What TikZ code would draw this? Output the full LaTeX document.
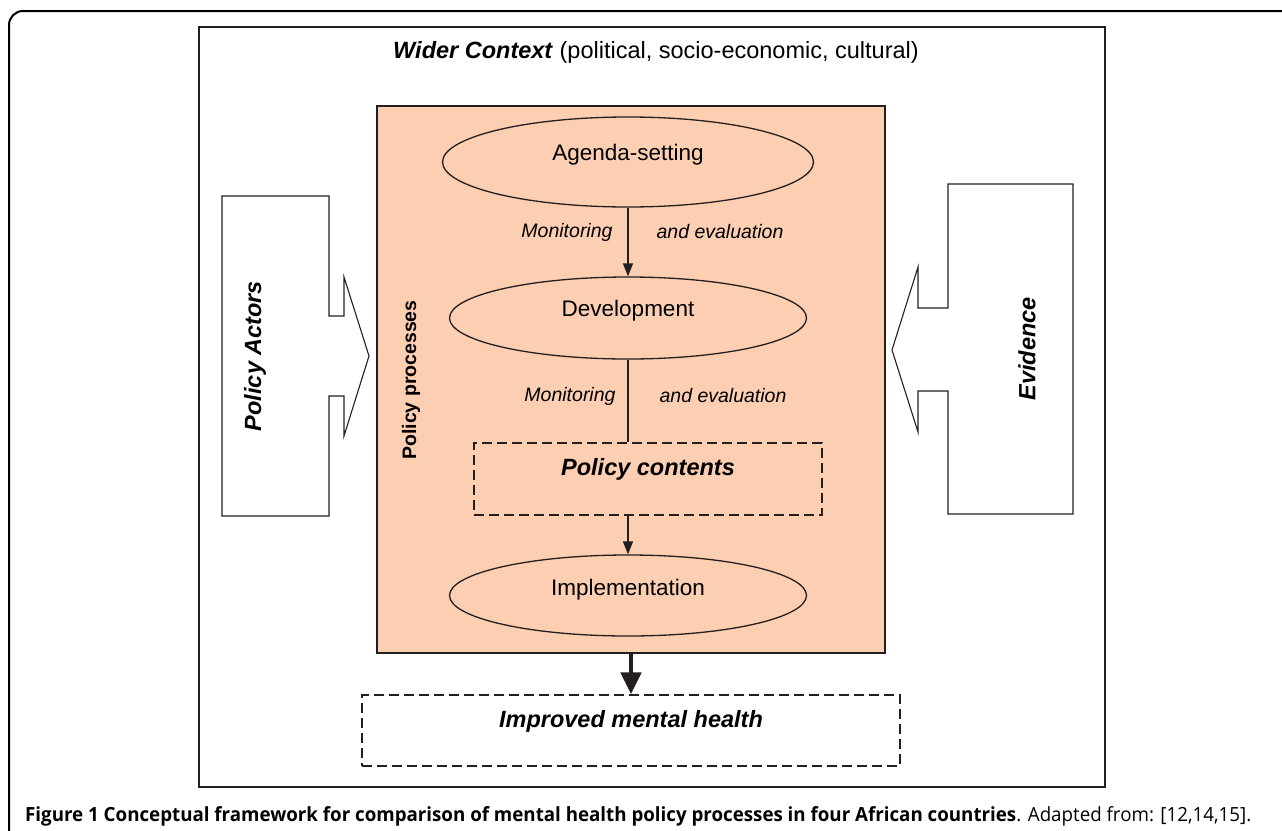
\documentclass[tikz,border=0pt]{standalone}
\usepackage{fontspec}
\usepackage{graphicx}
\setmainfont{Liberation Sans}
\newfontfamily\capfont{Open Sans}
\usetikzlibrary{shapes.geometric,arrows.meta}
\definecolor{peach}{RGB}{252,206,178}
\definecolor{ink}{RGB}{35,31,32}
\begin{document}
\begin{tikzpicture}[x=1pt,y=-1pt,
  frame/.style={draw=ink,line width=1.5pt},
  proc/.style={ellipse,draw=ink,line width=1.3pt,inner sep=0pt},
  dbox/.style={draw=ink,line width=1.3pt,dash pattern=on 10pt off 5pt,inner sep=0pt},
  big/.style={font=\fontsize{23.5}{28}\selectfont},
  mid/.style={font=\fontsize{22.5}{27}\selectfont},
  small/.style={font=\fontsize{19.5}{23}\selectfont\itshape},
  thin/.style={draw=ink,line width=1.3pt},
  tarrow/.style={draw=ink,line width=1.3pt,-{Triangle[width=10pt,length=13pt]}},
  barrow/.style={draw=ink,line width=4.7pt,-{Triangle[width=20pt,length=22pt]}},
  blockarrow/.style={draw=ink,line width=1.1pt,fill=white}
]
\useasboundingbox (0,0) rectangle (1282,830);
\begin{scope}
\clip (0,0) rectangle (1282,830);
\draw[line width=2pt,rounded corners=14pt] (9,850) -- (9,11) -- (1300,11);
\end{scope}

% wider context
\node[frame,minimum width=906pt,minimum height=760pt,inner sep=0pt] (wider) at (652,407) {};
\node[big] (widert) at (656,52.5) {\textbf{\itshape Wider Context} (political, socio-economic, cultural)};

% policy process box
\node[frame,fill=peach,minimum width=508pt,minimum height=547pt,inner sep=0pt] (peach) at (631,379.5) {};
\node[rotate=90,font=\fontsize{19.5}{23}\selectfont\bfseries] (pp) at (411,380) {Policy processes};

% ellipses
\node[proc,minimum width=371pt,minimum height=90pt] (agenda) at (628,162) {};
\node[mid] (agendat) at (628,155) {Agenda-setting};
\node[proc,minimum width=357pt,minimum height=82pt] (dev) at (628,318) {};
\node[mid] (devt) at (628,310.5) {Development};
\node[proc,minimum width=357pt,minimum height=81pt] (imp) at (628,595.5) {};
\node[mid] (impt) at (628,590) {Implementation};

% policy contents
\node[dbox,fill=peach,minimum width=348pt,minimum height=72pt] (pc) at (648,479) {};
\node[font=\fontsize{23.5}{28}\selectfont\bfseries\itshape] (pct) at (648,469) {Policy contents};

% monitoring labels
\node[small] (m1) at (567,232) {Monitoring};
\node[small] (e1) at (720,232) {and evaluation};
\node[small] (m2) at (570,396) {Monitoring};
\node[small] (e2) at (723,396) {and evaluation};

% connectors
\draw[tarrow] (agenda.south) -- (dev.north);
\draw[thin] (dev.south) -- (dev.south |- pc.north);
\draw[tarrow] (imp.north |- pc.south) -- (imp.north);

% improved mental health
\node[dbox,minimum width=538pt,minimum height=71pt] (imh) at (631,730.5) {};
\node[font=\fontsize{23.5}{28}\selectfont\bfseries\itshape] (imht) at (631,721) {Improved mental health};
\draw[barrow] (peach.south) -- (imh.north);

% policy actors block arrow
\draw[blockarrow] (222,196) -- (329,196) -- (329,316) -- (344,316) -- (344,277) -- (369,356) -- (344,436) -- (344,396) -- (329,396) -- (329,516) -- (222,516) -- cycle;
\node[rotate=90,font=\fontsize{23.5}{28}\selectfont\bfseries\itshape] (pa) at (255,356) {Policy Actors};

% evidence block arrow
\draw[blockarrow] (1073,184) -- (948,184) -- (948,308) -- (918,308) -- (918,267) -- (892,350) -- (918,432) -- (918,391) -- (948,391) -- (948,514) -- (1073,514) -- cycle;
\node[rotate=90,font=\fontsize{23.5}{28}\selectfont\bfseries\itshape] (ev) at (1027,349) {Evidence};

% caption
\node[anchor=base west,inner sep=0pt] (cap) at (25,821) {\capfont\fontsize{19.5}{22}\selectfont\resizebox{1226pt}{\height}{\textbf{Figure 1 Conceptual framework for comparison of mental health policy processes in four African countries}. Adapted from: [12,14,15].}};
\end{tikzpicture}
\end{document}
